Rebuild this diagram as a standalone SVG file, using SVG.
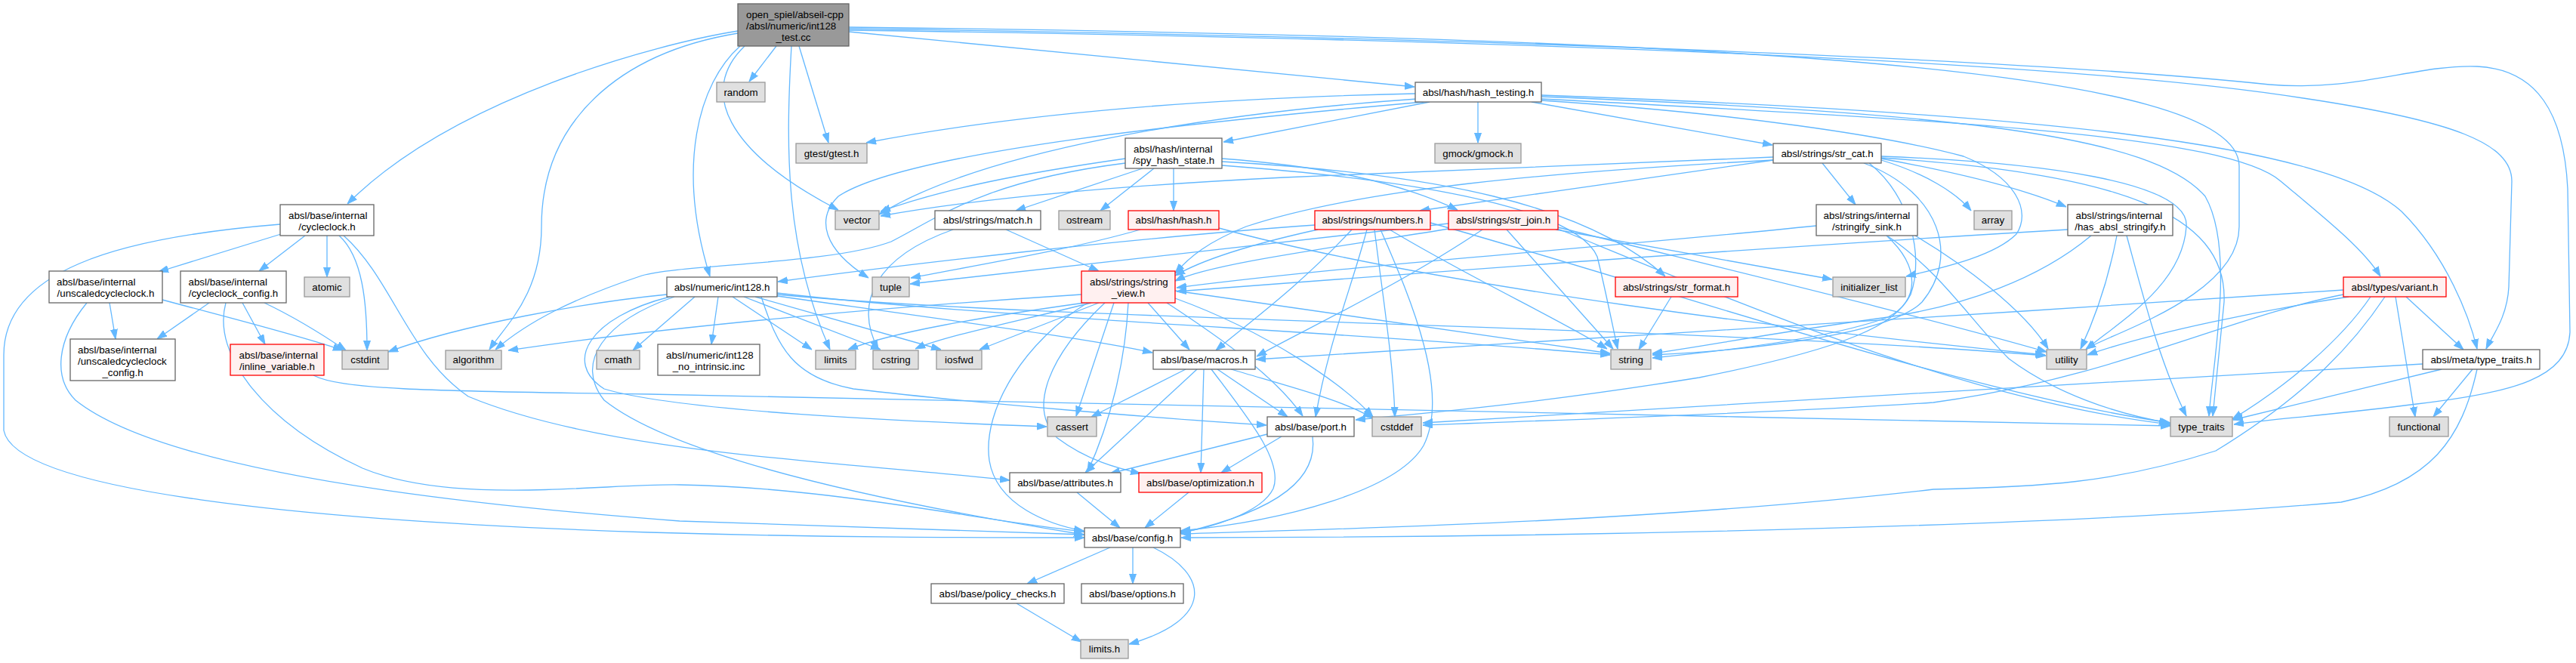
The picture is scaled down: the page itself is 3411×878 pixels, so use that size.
<svg xmlns="http://www.w3.org/2000/svg" width="3411" height="878" viewBox="0 0 3411 878">
<defs>
<marker id="a" viewBox="0 0 13 10" refX="13" refY="5" markerWidth="13" markerHeight="10" markerUnits="userSpaceOnUse" orient="auto"><path d="M0,0.5 L13,5 L0,9.5 z" fill="#63b8ff" stroke="#63b8ff" stroke-width="1"/></marker>
</defs>
<style>
.e{fill:none;stroke:#63b8ff;stroke-width:1.3;marker-end:url(#a)}
rect{stroke-width:1.3}
.n rect{fill:#ffffff;stroke:#666666}
.x rect{fill:#e0e0e0;stroke:#999999}
.r rect{fill:#fff0f0;stroke:#ff0000}
.m rect{fill:#999999;stroke:#666666}
text{font-family:"Liberation Sans",Arial,Helvetica,sans-serif;font-size:13.33px;fill:#000000}
.c{text-anchor:middle}
</style>
<rect x="0" y="0" width="3411" height="878" fill="#ffffff"/>
<g id="edges">
<path class="e" d="M977,41 C870,58 600,130 460,270"/>
<path class="e" d="M977,44 C820,70 717,160 717,300 C717,390 670,430 648,463"/>
<path class="e" d="M980,61 C925,110 895,220 940,366"/>
<path class="e" d="M986,61 C925,120 960,200 1110,278"/>
<path class="e" d="M1028,61 L992,108"/>
<path class="e" d="M1048,61 C1040,200 1040,330 1099,463"/>
<path class="e" d="M1058,61 L1097,189"/>
<path class="e" d="M1124,42 L1873,115"/>
<path class="e" d="M1124,36 C2300,50 2965,90 2965,220 L2965,300 C2965,390 2800,440 2762,462"/>
<path class="e" d="M1124,38 C2000,50 2700,80 3005,112 C3120,122 3200,85 3280,88 C3360,92 3395,150 3400,250 L3403,440 C3400,500 3330,520 3200,535 C3100,548 3000,556 2958,562"/>
<path class="e" d="M1124,40 C2200,55 2800,90 3050,130 C3250,160 3326,190 3326,240 L3322,380 C3320,420 3300,445 3292,462"/>
<path class="e" d="M1957,135 L1957,189"/>
<path class="e" d="M1874,124 C1600,130 1350,150 1147,189"/>
<path class="e" d="M1876,131 C1600,150 1300,200 1164,284"/>
<path class="e" d="M1885,135 C1600,160 1200,200 1110,260 C1080,290 1090,330 1150,368"/>
<path class="e" d="M1893,135 L1620,188"/>
<path class="e" d="M2028,135 L2347,192"/>
<path class="e" d="M2041,131 C2600,160 2950,180 3020,240 C3080,290 3130,330 3152,366"/>
<path class="e" d="M2041,126 C2700,150 3080,190 3180,280 C3240,340 3270,420 3280,462"/>
<path class="e" d="M2041,128 C2600,150 2850,180 2920,260 C2960,330 2930,480 2925,551"/>
<path class="e" d="M2041,133 C2300,150 2500,180 2600,207 C2670,235 2690,280 2670,310 C2640,340 2570,355 2524,366"/>
<path class="e" d="M1490,210 C1350,230 1250,250 1166,280"/>
<path class="e" d="M1490,216 C1300,240 1240,290 1180,320 C1100,350 900,350 850,365 C760,395 700,425 656,463"/>
<path class="e" d="M1513,223 L1345,279"/>
<path class="e" d="M1528,223 L1457,279"/>
<path class="e" d="M1554,223 L1554,279"/>
<path class="e" d="M1618,210 C1750,220 1850,240 1930,278"/>
<path class="e" d="M1618,214 C1900,230 2100,270 2205,366"/>
<path class="e" d="M1618,219 C1900,240 2090,280 2115,340 C2125,380 2135,430 2142,462"/>
<path class="e" d="M1510,304 C1420,330 1300,350 1206,368"/>
<path class="e" d="M1614,302 C1900,380 2400,440 2708,470"/>
<path class="e" d="M1332,304 L1455,359"/>
<path class="e" d="M1262,304 C1160,340 1130,400 1163,463"/>
<path class="e" d="M951,393 L942,456"/>
<path class="e" d="M920,393 L838,464"/>
<path class="e" d="M883,390 C780,400 610,430 514,466"/>
<path class="e" d="M887,393 C780,420 745,480 800,515 C900,545 1200,558 1386,565"/>
<path class="e" d="M893,393 C800,425 760,480 800,530 C900,610 1200,670 1435,708"/>
<path class="e" d="M970,393 L1075,463"/>
<path class="e" d="M985,393 L1166,463"/>
<path class="e" d="M1000,393 L1246,463"/>
<path class="e" d="M1029,392 C1300,430 1450,450 1526,467"/>
<path class="e" d="M1008,393 C1030,460 1050,500 1130,515 C1300,535 1550,555 1677,563"/>
<path class="e" d="M1029,388 C1300,420 1800,440 2132,470"/>
<path class="e" d="M1029,390 C1400,425 2200,430 2709,471"/>
<path class="e" d="M1432,390 C1200,405 900,430 673,464"/>
<path class="e" d="M1436,401 C1300,420 1180,440 1123,463"/>
<path class="e" d="M1445,401 C1350,425 1250,445 1212,462"/>
<path class="e" d="M1455,401 L1297,463"/>
<path class="e" d="M1475,401 L1425,551"/>
<path class="e" d="M1440,401 C1360,450 1300,540 1310,610 C1320,670 1390,695 1435,703"/>
<path class="e" d="M1463,401 C1390,470 1360,540 1400,580 C1440,610 1480,620 1510,627"/>
<path class="e" d="M1494,401 C1490,480 1470,560 1440,625"/>
<path class="e" d="M1520,401 L1575,463"/>
<path class="e" d="M1545,401 C1620,450 1690,500 1725,551"/>
<path class="e" d="M1556,385 C1800,420 2000,450 2132,468"/>
<path class="e" d="M1556,395 C1680,440 1780,510 1818,552"/>
<path class="e" d="M1570,489 L1445,552"/>
<path class="e" d="M1585,489 L1437,626"/>
<path class="e" d="M1594,489 L1590,626"/>
<path class="e" d="M1604,489 C1650,550 1700,610 1686,647 C1670,680 1600,700 1563,705"/>
<path class="e" d="M1612,489 L1705,552"/>
<path class="e" d="M1630,489 C1700,510 1780,530 1818,554"/>
<path class="e" d="M1678,575 L1470,627"/>
<path class="e" d="M1697,578 L1617,626"/>
<path class="e" d="M1738,578 C1745,630 1700,675 1563,706"/>
<path class="e" d="M1426,652 L1483,699"/>
<path class="e" d="M1574,652 L1516,699"/>
<path class="e" d="M1470,725 L1360,773"/>
<path class="e" d="M1500,725 L1500,773"/>
<path class="e" d="M1527,725 C1600,760 1610,820 1495,853"/>
<path class="e" d="M1346,799 L1432,850"/>
<path class="e" d="M372,310 L210,360"/>
<path class="e" d="M404,312 L343,359"/>
<path class="e" d="M433,312 L433,367"/>
<path class="e" d="M449,312 C480,340 486,400 486,464"/>
<path class="e" d="M455,312 C520,370 540,470 620,525 C800,600 1100,610 1337,636"/>
<path class="e" d="M371,297 C150,315 5,360 5,470 L5,570 C20,650 400,690 860,705 C1100,712 1300,712 1436,712"/>
<path class="e" d="M145,401 L153,449"/>
<path class="e" d="M115,401 C75,450 70,500 100,530 C200,610 500,660 900,690 C1150,700 1300,705 1436,708"/>
<path class="e" d="M215,397 C300,420 400,445 454,464"/>
<path class="e" d="M277,401 L208,449"/>
<path class="e" d="M299,401 C280,470 350,560 480,620 C600,670 800,640 900,642 C1100,645 1300,690 1436,704"/>
<path class="e" d="M321,401 L351,456"/>
<path class="e" d="M350,401 C390,420 430,445 458,464"/>
<path class="e" d="M415,497 C450,515 550,518 860,522 C1300,528 1800,540 2300,552 C2600,558 2800,562 2874,564"/>
<path class="e" d="M1741,298 C1500,315 1200,350 1030,373"/>
<path class="e" d="M1745,304 C1650,325 1590,345 1556,365"/>
<path class="e" d="M1790,304 C1720,380 1650,430 1610,464"/>
<path class="e" d="M1810,304 C1790,380 1760,450 1742,552"/>
<path class="e" d="M1820,304 C1832,400 1845,480 1847,552"/>
<path class="e" d="M1828,304 C1870,400 1920,520 1885,590 C1850,650 1700,690 1563,703"/>
<path class="e" d="M1840,304 C1950,370 2060,420 2128,462"/>
<path class="e" d="M1894,295 C2200,380 2600,520 2874,560"/>
<path class="e" d="M1925,302 C1750,330 1600,350 1556,372"/>
<path class="e" d="M1918,296 C1700,320 1400,355 1205,376"/>
<path class="e" d="M1963,304 C1850,380 1720,440 1664,472"/>
<path class="e" d="M1995,304 L2136,462"/>
<path class="e" d="M2060,304 L2426,370"/>
<path class="e" d="M2063,301 C2300,360 2550,420 2710,466"/>
<path class="e" d="M2063,303 C2300,400 2600,530 2874,562"/>
<path class="e" d="M2348,212 L1880,279"/>
<path class="e" d="M2348,208 C2100,218 1900,228 1700,235 C1500,245 1300,262 1166,286"/>
<path class="e" d="M2348,212 C2050,228 1800,250 1650,300 C1600,320 1575,340 1556,362"/>
<path class="e" d="M2413,216 L2457,271"/>
<path class="e" d="M2491,212 C2550,230 2590,255 2610,279"/>
<path class="e" d="M2491,210 C2600,230 2680,250 2736,274"/>
<path class="e" d="M2468,216 C2570,255 2595,340 2545,400 C2500,445 2300,465 2188,470"/>
<path class="e" d="M2475,216 C2530,260 2548,340 2530,390 C2510,430 2450,460 2250,500 C2000,540 1850,550 1795,556"/>
<path class="e" d="M2491,207 C2700,215 2900,240 2895,300 C2890,380 2800,430 2762,463"/>
<path class="e" d="M2491,209 C2800,230 2950,280 2945,400 L2930,551"/>
<path class="e" d="M2405,299 C2100,330 1800,350 1558,381"/>
<path class="e" d="M2498,312 C2545,355 2540,400 2500,420 C2420,450 2270,466 2188,474"/>
<path class="e" d="M2536,312 C2600,350 2680,410 2712,462"/>
<path class="e" d="M2500,313 C2570,360 2610,425 2660,475 C2720,520 2800,548 2872,560"/>
<path class="e" d="M2738,304 C2300,330 1900,360 1558,386"/>
<path class="e" d="M2769,312 C2700,370 2600,405 2500,420 C2350,440 2250,460 2188,468"/>
<path class="e" d="M2803,312 C2790,380 2770,430 2755,462"/>
<path class="e" d="M2816,312 C2840,400 2860,480 2895,551"/>
<path class="e" d="M2213,393 L2170,463"/>
<path class="e" d="M3103,390 C2950,420 2800,500 2560,533 C2300,550 2000,558 1884,563"/>
<path class="e" d="M3110,393 C3000,410 2850,440 2764,470"/>
<path class="e" d="M3139,393 C3100,450 3030,510 2956,555"/>
<path class="e" d="M3158,393 C3120,450 3060,520 2934,597 C2800,640 2700,645 2560,648 C2200,690 1800,700 1564,707"/>
<path class="e" d="M3172,393 L3198,552"/>
<path class="e" d="M3186,393 L3262,463"/>
<path class="e" d="M3103,384 C2600,420 2000,450 1663,476"/>
<path class="e" d="M3274,489 L3222,552"/>
<path class="e" d="M3233,489 L2957,556"/>
<path class="e" d="M3280,489 C3260,580 3220,640 3100,665 C2700,700 2000,712 1564,712"/>
<path class="e" d="M3208,482 C2800,505 2300,535 1884,560"/>
</g>
<g id="main" class="m"><rect x="977" y="5" width="147" height="56"/><text x="988" y="24">open_spiel/abseil-cpp</text><text x="988" y="39">/absl/numeric/int128</text><text class="c" x="1050.5" y="54">_test.cc</text></g>
<g id="random" class="x"><rect x="949" y="109" width="64" height="26"/><text class="c" x="981" y="126.5">random</text></g>
<g id="gtest" class="x"><rect x="1054" y="190" width="94" height="26"/><text class="c" x="1101" y="207.5">gtest/gtest.h</text></g>
<g id="hash_testing" class="n"><rect x="1874" y="109" width="167" height="26"/><text class="c" x="1957.5" y="126.5">absl/hash/hash_testing.h</text></g>
<g id="gmock" class="x"><rect x="1900" y="190" width="114" height="26"/><text class="c" x="1957" y="207.5">gmock/gmock.h</text></g>
<g id="spy_hash_state" class="n"><rect x="1490" y="183" width="128" height="40"/><text x="1501" y="201.5">absl/hash/internal</text><text class="c" x="1554" y="216.5">/spy_hash_state.h</text></g>
<g id="str_cat" class="n"><rect x="2348" y="190" width="143" height="26"/><text class="c" x="2419.5" y="207.5">absl/strings/str_cat.h</text></g>
<g id="vector" class="x"><rect x="1106" y="279" width="58" height="25"/><text class="c" x="1135" y="296">vector</text></g>
<g id="match" class="n"><rect x="1238" y="279" width="140" height="25"/><text class="c" x="1308" y="296">absl/strings/match.h</text></g>
<g id="ostream" class="x"><rect x="1402" y="279" width="68" height="25"/><text class="c" x="1436" y="296">ostream</text></g>
<g id="hash_h" class="r"><rect x="1494" y="279" width="120" height="25"/><text class="c" x="1554" y="296">absl/hash/hash.h</text></g>
<g id="numbers" class="r"><rect x="1741" y="279" width="153" height="25"/><text class="c" x="1817.5" y="296">absl/strings/numbers.h</text></g>
<g id="str_join" class="r"><rect x="1918" y="279" width="145" height="25"/><text class="c" x="1990.5" y="296">absl/strings/str_join.h</text></g>
<g id="array" class="x"><rect x="2614" y="279" width="50" height="25"/><text class="c" x="2639" y="296">array</text></g>
<g id="cycleclock" class="n"><rect x="371" y="271" width="124" height="41"/><text x="382" y="289.5">absl/base/internal</text><text class="c" x="433" y="304.5">/cycleclock.h</text></g>
<g id="stringify_sink" class="n"><rect x="2405" y="271" width="134" height="41"/><text x="2414.5" y="289.5">absl/strings/internal</text><text class="c" x="2472" y="304.5">/stringify_sink.h</text></g>
<g id="has_absl_stringify" class="n"><rect x="2738" y="271" width="139" height="41"/><text x="2748.5" y="289.5">absl/strings/internal</text><text class="c" x="2807.5" y="304.5">/has_absl_stringify.h</text></g>
<g id="unscaledcycleclock" class="n"><rect x="65" y="359" width="150" height="42"/><text x="75" y="377.5">absl/base/internal</text><text class="c" x="140" y="392.5">/unscaledcycleclock.h</text></g>
<g id="cycleclock_config" class="n"><rect x="239" y="359" width="140" height="42"/><text x="249.5" y="377.5">absl/base/internal</text><text class="c" x="309" y="392.5">/cycleclock_config.h</text></g>
<g id="atomic" class="x"><rect x="403" y="367" width="60" height="26"/><text class="c" x="433" y="384.5">atomic</text></g>
<g id="int128" class="n"><rect x="883" y="367" width="146" height="26"/><text class="c" x="956" y="384.5">absl/numeric/int128.h</text></g>
<g id="tuple" class="x"><rect x="1155" y="367" width="49" height="26"/><text class="c" x="1179.5" y="384.5">tuple</text></g>
<g id="string_view" class="r"><rect x="1432" y="359" width="124" height="42"/><text x="1443" y="377.5">absl/strings/string</text><text class="c" x="1494" y="392.5">_view.h</text></g>
<g id="str_format" class="r"><rect x="2139" y="367" width="162" height="26"/><text class="c" x="2220" y="384.5">absl/strings/str_format.h</text></g>
<g id="initializer_list" class="x"><rect x="2427" y="367" width="96" height="26"/><text class="c" x="2475" y="384.5">initializer_list</text></g>
<g id="variant" class="r"><rect x="3103" y="367" width="136" height="26"/><text class="c" x="3171" y="384.5">absl/types/variant.h</text></g>
<g id="unscaledcycleclock_config" class="n"><rect x="93" y="449" width="139" height="55"/><text x="103" y="468">absl/base/internal</text><text x="103" y="483">/unscaledcycleclock</text><text class="c" x="162.5" y="498">_config.h</text></g>
<g id="inline_variable" class="r"><rect x="305" y="456" width="124" height="41"/><text x="316.5" y="474.5">absl/base/internal</text><text class="c" x="367" y="489.5">/inline_variable.h</text></g>
<g id="cstdint" class="x"><rect x="453" y="464" width="61" height="25"/><text class="c" x="483.5" y="481">cstdint</text></g>
<g id="algorithm" class="x"><rect x="590" y="464" width="74" height="25"/><text class="c" x="627" y="481">algorithm</text></g>
<g id="cmath" class="x"><rect x="790" y="464" width="57" height="25"/><text class="c" x="818.5" y="481">cmath</text></g>
<g id="int128_no_intrinsic" class="n"><rect x="871" y="456" width="135" height="41"/><text x="882" y="474.5">absl/numeric/int128</text><text class="c" x="938.5" y="489.5">_no_intrinsic.inc</text></g>
<g id="limits" class="x"><rect x="1080" y="464" width="53" height="25"/><text class="c" x="1106.5" y="481">limits</text></g>
<g id="cstring" class="x"><rect x="1156" y="464" width="60" height="25"/><text class="c" x="1186" y="481">cstring</text></g>
<g id="iosfwd" class="x"><rect x="1240" y="464" width="60" height="25"/><text class="c" x="1270" y="481">iosfwd</text></g>
<g id="macros" class="n"><rect x="1527" y="464" width="135" height="25"/><text class="c" x="1594.5" y="481">absl/base/macros.h</text></g>
<g id="string" class="x"><rect x="2133" y="463" width="53" height="26"/><text class="c" x="2159.5" y="480.5">string</text></g>
<g id="utility" class="x"><rect x="2710" y="463" width="53" height="26"/><text class="c" x="2736.5" y="480.5">utility</text></g>
<g id="meta_type_traits" class="n"><rect x="3208" y="463" width="155" height="26"/><text class="c" x="3285.5" y="480.5">absl/meta/type_traits.h</text></g>
<g id="cassert" class="x"><rect x="1387" y="552" width="65" height="26"/><text class="c" x="1419.5" y="569.5">cassert</text></g>
<g id="port" class="n"><rect x="1678" y="552" width="115" height="26"/><text class="c" x="1735.5" y="569.5">absl/base/port.h</text></g>
<g id="cstddef" class="x"><rect x="1817" y="552" width="65" height="26"/><text class="c" x="1849.5" y="569.5">cstddef</text></g>
<g id="type_traits" class="x"><rect x="2874" y="552" width="82" height="26"/><text class="c" x="2915" y="569.5">type_traits</text></g>
<g id="functional" class="x"><rect x="3164" y="552" width="78" height="26"/><text class="c" x="3203" y="569.5">functional</text></g>
<g id="attributes" class="n"><rect x="1337" y="626" width="147" height="26"/><text class="c" x="1410.5" y="643.5">absl/base/attributes.h</text></g>
<g id="optimization" class="r"><rect x="1508" y="626" width="163" height="26"/><text class="c" x="1589.5" y="643.5">absl/base/optimization.h</text></g>
<g id="config" class="n"><rect x="1436" y="699" width="127" height="26"/><text class="c" x="1499.5" y="716.5">absl/base/config.h</text></g>
<g id="policy_checks" class="n"><rect x="1233" y="773" width="176" height="26"/><text class="c" x="1321" y="790.5">absl/base/policy_checks.h</text></g>
<g id="options" class="n"><rect x="1432" y="773" width="135" height="26"/><text class="c" x="1499.5" y="790.5">absl/base/options.h</text></g>
<g id="limits_h" class="x"><rect x="1431" y="847" width="63" height="25"/><text class="c" x="1462.5" y="864">limits.h</text></g>
</svg>
